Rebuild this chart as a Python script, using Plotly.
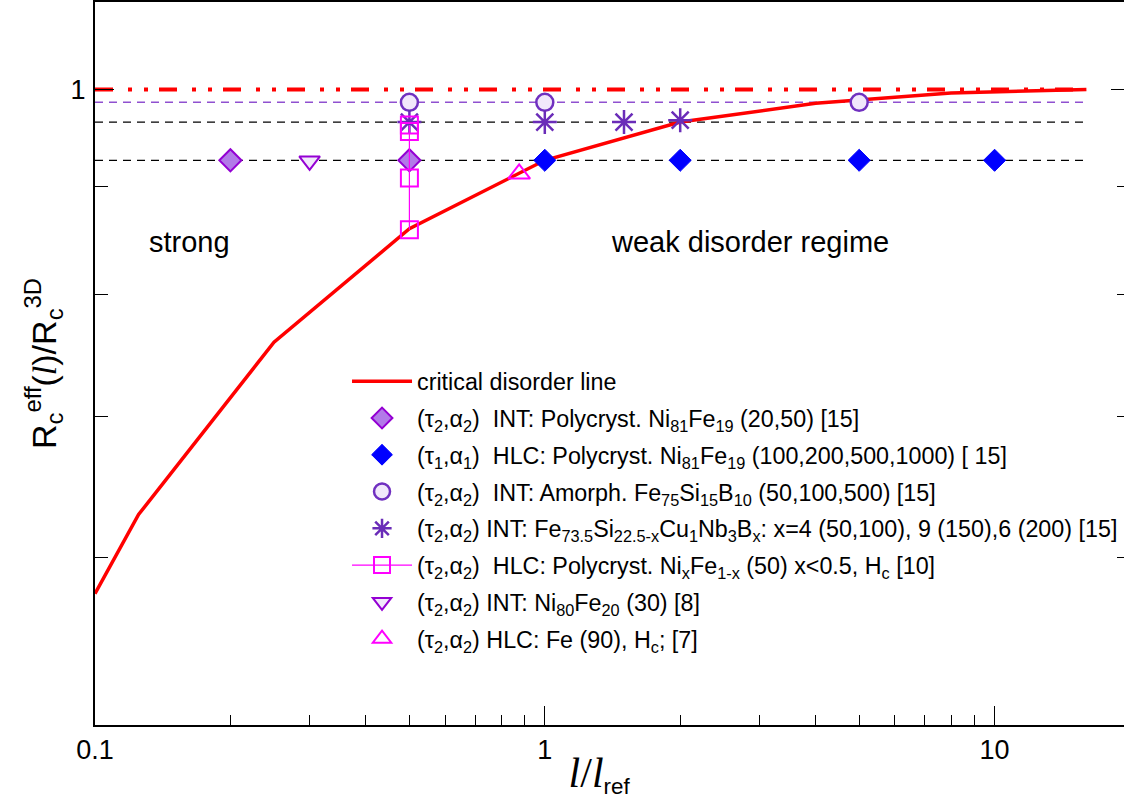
import math
import plotly.graph_objects as go

# ---------------- data ----------------
crit_x = [0.1, 0.125, 0.25, 0.5, 1, 2, 4, 8, 16]
crit_y = [0.577, 0.629, 0.759, 0.859, 0.9256, 0.965, 0.985, 0.996, 1.0]

ref_x = [0.1, 16]
ref_level = 1.0
dash_x = [0.1, 16]
purple_level = 0.986
black_levels = [0.965, 0.9256]

int_poly_x = [0.2, 0.5]
int_poly_y = [0.9256, 0.9256]

hlc_poly_x = [1, 2, 5, 10]
hlc_poly_y = [0.9256, 0.9256, 0.9256, 0.9256]

amorph_x = [0.5, 1, 5]
amorph_y = [0.986, 0.986, 0.986]

finemet_x = [0.5, 1, 1.5, 2]
finemet_y = [0.965, 0.965, 0.965, 0.967]

nife_x = [0.5, 0.5, 0.5, 0.5]
nife_y = [0.962, 0.955, 0.908, 0.858]

ni80_x = [0.3]
ni80_y = [0.925]

fe_x = [0.877]
fe_y = [0.912]

x_range = [0.1, 20]
y_range = [0.5, 1.1]

x_major = [0.1, 1, 10]
x_major_text = ["0.1", "1", "10"]
x_minor = [0.2, 0.3, 0.4, 0.5, 0.6, 0.7, 0.8, 0.9, 2, 3, 4, 5, 6, 7, 8, 9]
y_major = [1]
y_major_text = ["1"]
y_minor = [0.6, 0.7, 0.8, 0.9]

region_labels = ["strong", "weak disorder regime"]
region_x = [0.162, 2.856]
region_y = 0.693

names = [
    "critical disorder line",
    "(τ<sub>2</sub>,α<sub>2</sub>)  INT: Polycryst. Ni<sub>81</sub>Fe<sub>19</sub> (20,50) [15]",
    "(τ<sub>1</sub>,α<sub>1</sub>)  HLC: Polycryst. Ni<sub>81</sub>Fe<sub>19</sub> (100,200,500,1000) [ 15]",
    "(τ<sub>2</sub>,α<sub>2</sub>)  INT: Amorph. Fe<sub>75</sub>Si<sub>15</sub>B<sub>10</sub> (50,100,500) [15]",
    "(τ<sub>2</sub>,α<sub>2</sub>) INT: Fe<sub>73.5</sub>Si<sub>22.5-x</sub>Cu<sub>1</sub>Nb<sub>3</sub>B<sub>x</sub>: x=4 (50,100), 9 (150),6 (200) [15]",
    "(τ<sub>2</sub>,α<sub>2</sub>)  HLC: Polycryst. Ni<sub>x</sub>Fe<sub>1-x</sub> (50) x&lt;0.5, H<sub>c</sub> [10]",
    "(τ<sub>2</sub>,α<sub>2</sub>) INT: Ni<sub>80</sub>Fe<sub>20</sub> (30) [8]",
    "(τ<sub>2</sub>,α<sub>2</sub>) HLC: Fe (90), H<sub>c</sub>; [7]",
]

FONT = "Liberation Sans, Arial, Helvetica, sans-serif"
SERIF_L = '<span style="font-family:Liberation Serif"><i>l</i></span>'
X_TITLE = ('<span style="font-family:Liberation Serif;font-size:42px"><i>l</i>/<i>l</i></span>'
           '<sub>ref</sub>&nbsp;&nbsp;&nbsp;')

fig = go.Figure()

# reference lines
fig.add_trace(go.Scatter(x=dash_x, y=[purple_level, purple_level], mode="lines",
                         line=dict(color="#9050d0", width=1.5, dash="8px,6px"),
                         showlegend=False, hoverinfo="skip"))
for lv in black_levels:
    fig.add_trace(go.Scatter(x=dash_x, y=[lv, lv], mode="lines",
                             line=dict(color="black", width=1.2, dash="8px,6px"),
                             showlegend=False, hoverinfo="skip"))
fig.add_trace(go.Scatter(x=ref_x, y=[ref_level, ref_level], mode="lines",
                         line=dict(color="#ff0000", width=4, dash="18px,15px,4px,12px,4px,11px"),
                         showlegend=False, hoverinfo="skip"))

# critical disorder line
fig.add_trace(go.Scatter(x=crit_x, y=crit_y, mode="lines", name=names[0],
                         line=dict(color="#ff0000", width=3.5), legendgroup="g0"))

fig.add_trace(go.Scatter(x=int_poly_x, y=int_poly_y, mode="markers", name=names[1], legendgroup="g1",
                         marker=dict(symbol="diamond", size=17, color="#b27ae8",
                                     line=dict(color="#9400d3", width=2))))
fig.add_trace(go.Scatter(x=hlc_poly_x, y=hlc_poly_y, mode="markers", name=names[2], legendgroup="g2",
                         marker=dict(symbol="diamond", size=17, color="#0000ff",
                                     line=dict(color="#0000ff", width=1))))
fig.add_trace(go.Scatter(x=amorph_x, y=amorph_y, mode="markers", name=names[3], legendgroup="g3",
                         marker=dict(symbol="circle", size=17, color="#f1e8fb",
                                     line=dict(color="#7030c0", width=2.5))))
fig.add_trace(go.Scatter(x=finemet_x, y=finemet_y, mode="markers", name=names[4], legendgroup="g4",
                         marker=dict(symbol="asterisk-open", size=20, color="#6a2cb8",
                                     line=dict(color="#6a2cb8", width=2.5))))
fig.add_trace(go.Scatter(x=nife_x, y=nife_y, mode="lines+markers", name=names[5], legendgroup="g5",
                         line=dict(color="#ff00ff", width=1.2),
                         marker=dict(symbol="square-open", size=17, color="#ff00ff",
                                     line=dict(color="#ff00ff", width=2))))
fig.add_trace(go.Scatter(x=ni80_x, y=ni80_y, mode="markers", name=names[6], legendgroup="g6",
                         marker=dict(symbol="triangle-down", size=18, color="#f1e8fb",
                                     line=dict(color="#9400d3", width=2))))
fig.add_trace(go.Scatter(x=fe_x, y=fe_y, mode="markers", name=names[7], legendgroup="g7",
                         marker=dict(symbol="triangle-up-open", size=19, color="#ff00ff",
                                     line=dict(color="#ff00ff", width=2))))

for lab, lx in zip(region_labels, region_x):
    fig.add_annotation(x=math.log10(lx), y=region_y, xref="x", yref="paper", text=lab,
                       showarrow=False, font=dict(family=FONT, size=29, color="black"))

fig.update_layout(
    width=1130, height=810,
    margin=dict(l=95, r=0, t=2, b=85, autoexpand=False),
    paper_bgcolor="white", plot_bgcolor="white",
    font=dict(family=FONT, color="black"),
    showlegend=True,
    legend=dict(x=0.2435, y=0.5055, xanchor="left", yanchor="top",
                bgcolor="rgba(0,0,0,0)", borderwidth=0,
                font=dict(family=FONT, size=23.3, color="black"),
                tracegroupgap=3.5, itemwidth=60),
    xaxis=dict(type="log", range=[math.log10(v) for v in x_range], automargin=False,
               tickmode="array", tickvals=x_major, ticktext=x_major_text,
               ticks="inside", ticklen=19, tickwidth=1.2, tickcolor="black",
               minor=dict(tickmode="array", tickvals=x_minor, ticks="inside",
                          ticklen=10, tickwidth=1.2, tickcolor="black"),
               showline=True, linecolor="black", linewidth=2, mirror=True,
               showgrid=False, zeroline=False,
               tickfont=dict(family=FONT, size=27),
               title=dict(text=X_TITLE, font=dict(family=FONT, size=32), standoff=0)),
    yaxis=dict(type="log", range=[math.log10(v) for v in y_range], automargin=False,
               tickmode="array", tickvals=y_major, ticktext=y_major_text,
               ticks="inside", ticklen=19, tickwidth=1.2, tickcolor="black",
               minor=dict(tickmode="array", tickvals=y_minor, ticks="inside",
                          ticklen=13, tickwidth=1.2, tickcolor="black"),
               showline=True, linecolor="black", linewidth=2, mirror="ticks",
               showgrid=False, zeroline=False, ticklabelstandoff=2,
               tickfont=dict(family=FONT, size=27),
               title=dict(text="R<sub>c</sub><sup>eff</sup>(" + SERIF_L + ")/R<sub>c</sub><sup>3D</sup>",
                          font=dict(family=FONT, size=34), standoff=4)),
)

fig.write_html("out.html", config={"displayModeBar": False},
               post_script="document.body.style.margin='0';document.body.style.overflow='hidden';")
